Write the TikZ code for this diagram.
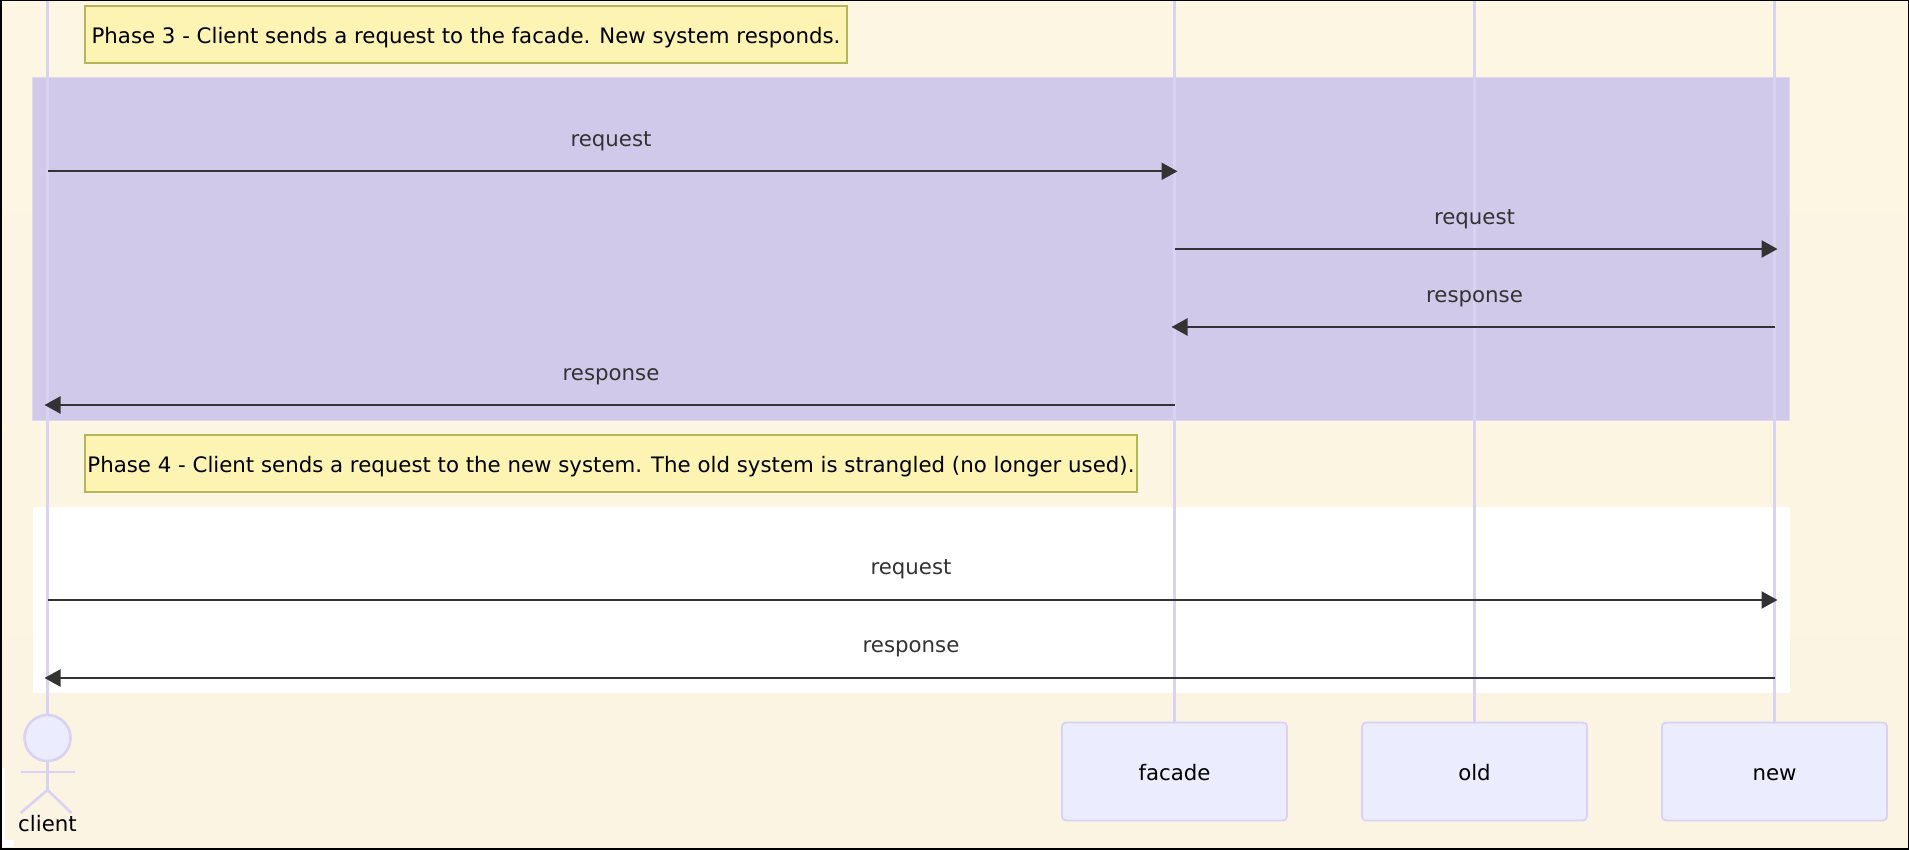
\documentclass[tikz,border=0pt]{standalone}
\usepackage{fontspec}
\setmainfont{DejaVu Sans}
\usetikzlibrary{arrows.meta}
\definecolor{bgc}{HTML}{FDF6E3}
\definecolor{bgd}{HTML}{FBF4E2}
\definecolor{band}{HTML}{D0C9E9}
\definecolor{bandedge}{HTML}{DFD9EC}
\definecolor{life}{HTML}{D9D2F4}
\definecolor{actorfill}{HTML}{ECECFF}
\definecolor{notefill}{HTML}{FDF3B3}
\definecolor{notedraw}{HTML}{B5B55A}
\definecolor{msg}{HTML}{333333}
\newcommand{\labelfont}{\fontsize{21.3}{24}\selectfont}
\tikzset{
  x=1pt,y=-1pt,
  lifeline/.style={draw=life,line width=2.6pt},
  actorbox/.style={draw=life,fill=actorfill,line width=1.8pt,rounded corners=4pt,minimum width=225pt,minimum height=98pt,inner sep=0pt,font=\labelfont,text=black,text height=20pt,text depth=2.7pt},
  notebox/.style={draw=notedraw,fill=notefill,line width=1.4pt,inner sep=0pt,minimum height=57pt,font=\labelfont,text=black,text height=20pt,text depth=2.7pt},
  message/.style={draw=msg,line width=2.4pt,-{Triangle[length=16pt,width=17pt]},shorten >=-3pt},
  msglabel/.style={text=msg,inner sep=0pt,font=\labelfont,text height=20pt,text depth=2.7pt},
  stick/.style={draw=life,line width=2.6pt},
}
\begin{document}
\begin{tikzpicture}
\useasboundingbox (0,0) rectangle (1909,850);
\shade[top color=bgc,bottom color=bgd] (0,0) rectangle (1909,850);
\fill[white] (2,768) rectangle (5,847);
\fill[white] (5,840) rectangle (14,847);
% bands
\filldraw[fill=band,draw=bandedge,line width=1pt] (32.5,78) rectangle (1789.5,420);
\fill[white] (32.5,507) rectangle (1789.5,693);
% participants
\node[actorbox] (facade) at (1174.5,771.5) {facade};
\node[actorbox] (old) at (1474.5,771.5) {old};
\node[actorbox] (new) at (1774.5,771.5) {new};
\coordinate (clientTop) at (47.5,0);
\coordinate (facadeTop) at (1174.5,0);
\coordinate (oldTop) at (1474.5,0);
\coordinate (newTop) at (1774.5,0);
\node[circle,draw=life,fill=actorfill,line width=2.6pt,minimum size=46pt,inner sep=0pt] (head) at (47.5,738) {};
\coordinate (armL) at (20.5,772);
\coordinate (armR) at (74.5,772);
\coordinate (hip) at (47.5,790);
\coordinate (legL) at (20.5,813);
\coordinate (legR) at (71.5,813);
\node[inner sep=0pt,text=black,font=\labelfont,text height=20pt,text depth=2.7pt] (client) at (47.5,822.5) {client};
\draw[lifeline] (clientTop) -- (head.north);
\draw[lifeline] (facadeTop) -- (facade.north);
\draw[lifeline] (oldTop) -- (old.north);
\draw[lifeline] (newTop) -- (new.north);
\draw[stick] (head.south) -- (hip);
\draw[stick] (armL) -- (armR);
\draw[stick] (legL) -- (hip) -- (legR);
% notes
\node[notebox,minimum width=762pt] (note3) at (466,34.5) {Phase 3 - Client sends a request to the facade. New system responds.};
\node[notebox,minimum width=1052pt] (note4) at (611,463.5) {Phase 4 - Client sends a request to the new system. The old system is strangled (no longer used).};
% message anchors
\foreach \n/\px/\yy in {c1/47.5/171.3,f1/1174.5/171.3,f2/1174.5/249,n2/1774.5/249,n3/1774.5/327,f3/1174.5/327,f4/1174.5/405,c4/47.5/405,c5/47.5/600,n5/1774.5/600,n6/1774.5/678,c6/47.5/678}
  \coordinate (\n) at (\px,\yy);
\draw[message] (c1) -- (f1);
\draw[message] (f2) -- (n2);
\draw[message] (n3) -- (f3);
\draw[message] (f4) -- (c4);
\draw[message] (c5) -- (n5);
\draw[message] (n6) -- (c6);
\node[msglabel] (l1) at (611,137.5) {request};
\node[msglabel] (l2) at (1474.5,215.5) {request};
\node[msglabel] (l3) at (1474.5,293.5) {response};
\node[msglabel] (l4) at (611,371.5) {response};
\node[msglabel] (l5) at (911,566) {request};
\node[msglabel] (l6) at (911,644) {response};
% frame
\draw[black,line width=1.5pt] (0.75,1) -- (0.75,849);
\draw[black,line width=2pt] (0,849) -- (1909,849);
\draw[black,line width=1pt] (0,0.5) -- (1909,0.5);
\draw[black,line width=1.5pt] (1908.25,0) -- (1908.25,850);
\end{tikzpicture}
\end{document}
